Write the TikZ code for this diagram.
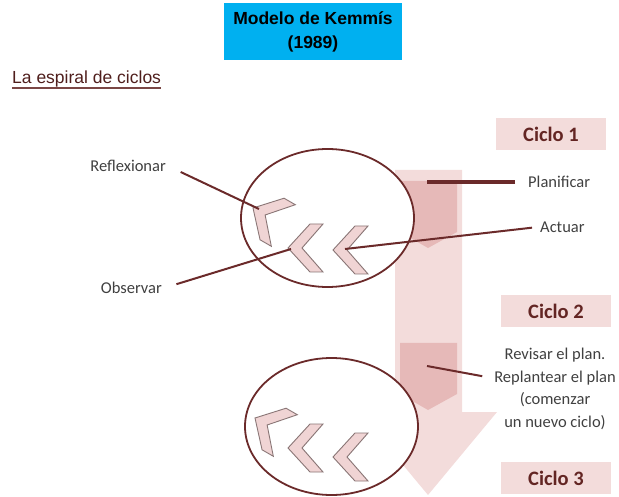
\documentclass[tikz,border=0pt]{standalone}
\usepackage{fontspec}
\setmainfont{Carlito}
\newfontfamily\arialfont{Liberation Sans}
\usepackage{xcolor}
\usetikzlibrary{shapes.geometric, positioning, calc}

\definecolor{kemblue}{HTML}{00B0F0}
\definecolor{rosaclaro}{HTML}{F3DCDB}
\definecolor{rosachev}{HTML}{F0D4D4}
\definecolor{rosamedio}{HTML}{E6B9B8}
\definecolor{granate}{HTML}{632523}
\definecolor{linea}{HTML}{6B2A2A}
\definecolor{gristexto}{HTML}{404040}
\definecolor{bordechev}{HTML}{8A7676}

\tikzset{
  titlebox/.style={fill=kemblue, minimum width=178pt, minimum height=57pt,
                   align=center, inner sep=0pt,
                   font=\arialfont\bfseries\fontsize{17.5}{24}\selectfont},
  subtitulo/.style={inner sep=0pt, text=granate!80!black,
                    font=\arialfont\fontsize{17.5}{20}\selectfont},
  ciclobox/.style={fill=rosaclaro, minimum width=110pt, minimum height=32pt,
                   text=granate, font=\bfseries\fontsize{20.5}{22}\selectfont},
  etiqueta/.style={text=gristexto, inner sep=2pt, align=center,
                   font=\fontsize{16.5}{22.5}\selectfont},
  ovalo/.style={ellipse, draw=linea, line width=1.8pt, fill=white,
                inner sep=0pt},
  chevron/.style={fill=rosachev, draw=bordechev, line width=0.9pt,
                  line join=miter},
  guia/.style={draw=linea, line width=2pt},
}

\begin{document}
\begin{tikzpicture}[x=1pt, y=-1pt]
  \useasboundingbox (0,0) rectangle (619,497);

  % titulo
  \node[titlebox] (titulo) at (313,31.5) {Modelo de Kemmís\\(1989)};
  \node[subtitulo, anchor=base west] (espiral) at (12,84) {La espiral de ciclos};
  \draw[draw=granate!85, line width=2pt] (espiral.south west) -- (espiral.south east);

  % flecha grande
  \fill[rosaclaro] (395,170) -- (462,170) -- (462,412) -- (497,412)
    -- (428,495) -- (359,412) -- (395,412) -- cycle;
  \foreach \dy in {0,162}
    \fill[rosamedio, yshift=-\dy pt] (400,181) -- (457,181) -- (457,232)
      -- (428,248) -- (400,232) -- cycle;

  % ciclos
  \node[ciclobox] (ciclo1) at (551,134) {Ciclo 1};
  \node[ciclobox] (ciclo2) at (556,311) {Ciclo 2};
  \node[ciclobox] (ciclo3) at (556,478) {Ciclo 3};

  \node[ovalo, minimum width=173pt, minimum height=138pt] (oval1) at (327.5,218) {};
  \node[ovalo, minimum width=173pt, minimum height=137pt] (oval2) at (331.5,426.5) {};

  \foreach \px/\py/\ang in {253/208/-30, 288/248/0, 333/250/0,
                            255/418/-30, 288/448/0, 333/457/0}
    \draw[chevron, shift={(\px,\py)}, rotate=\ang]
      (0,0) -- (22,-24) -- (35,-24) -- (14,0) -- (35,24) -- (22,24) -- cycle;

  % etiquetas
  \coordinate (pReflex)  at (259,209);
  \coordinate (pObserv)  at (291,249);
  \coordinate (pActuar)  at (345,249);
  \coordinate (pPlan)    at (427,182);
  \coordinate (pRevisar) at (427,366);

  \node[etiqueta, anchor=east] (reflex) at (168,166) {Reflexionar};
  \node[etiqueta, anchor=east] (observ) at (164,288) {Observar};
  \node[etiqueta, anchor=west] (plan)   at (526,182) {Planificar};
  \node[etiqueta, anchor=west] (actuar) at (538,227) {Actuar};
  \node[etiqueta] (revisar) at (555,389)
    {Revisar el plan.\\Replantear el plan\\(comenzar\\un nuevo ciclo)};

  \foreach \a/\b/\s in {reflex.east/pReflex/14pt, observ.east/pObserv/13pt,
                        actuar.west/pActuar/6pt}
    \draw[guia, shorten <=\s] (\a) -- (\b);
  \draw[guia, line width=3.5pt, shorten <=11pt] (plan.west) -- (pPlan);
  \draw[guia, shorten <=10pt] ([yshift=11pt]revisar.west) -- (pRevisar);

\end{tikzpicture}
\end{document}
